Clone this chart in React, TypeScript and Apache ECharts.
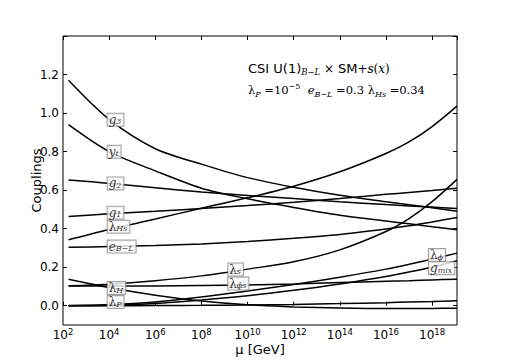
import React, { useEffect, useRef } from "react";
import * as echarts from "echarts";

// log10(mu / GeV) sample points
const logMu = [2.24, 4, 6, 8, 10, 12, 14, 16, 17, 18, 19.08];

const g3 = [1.17, 0.967, 0.815, 0.735, 0.665, 0.615, 0.573, 0.54, 0.524, 0.508, 0.49];
const yt = [0.94, 0.8, 0.7, 0.61, 0.555, 0.51, 0.47, 0.44, 0.425, 0.41, 0.394];
const g2 = [0.653, 0.635, 0.613, 0.59, 0.572, 0.556, 0.54, 0.525, 0.518, 0.512, 0.505];
const g1 = [0.463, 0.477, 0.49, 0.505, 0.52, 0.537, 0.557, 0.578, 0.588, 0.598, 0.61];
const lamHs = [0.342, 0.396, 0.45, 0.506, 0.56, 0.62, 0.695, 0.79, 0.85, 0.93, 1.036];
const eBL = [0.303, 0.307, 0.313, 0.321, 0.334, 0.35, 0.37, 0.398, 0.415, 0.435, 0.458];
const lamS = [0.104, 0.112, 0.13, 0.155, 0.19, 0.228, 0.29, 0.385, 0.452, 0.54, 0.656];
const lamPhiS = [0.102, 0.102, 0.103, 0.105, 0.108, 0.113, 0.12, 0.127, 0.13, 0.134, 0.138];
const lamPhi = [0.001, 0.006, 0.02, 0.045, 0.077, 0.11, 0.148, 0.19, 0.215, 0.242, 0.273];
const gMix = [0.0, 0.003, 0.012, 0.03, 0.052, 0.08, 0.113, 0.152, 0.175, 0.2, 0.233];
const lamH = [0.138, 0.095, 0.055, 0.025, 0.005, -0.006, -0.012, -0.015, -0.015, -0.014, -0.013];
const lamP = [0.0, 0.0, 0.001, 0.002, 0.004, 0.007, 0.011, 0.016, 0.019, 0.022, 0.026];

const curves = [g3, yt, g2, g1, lamHs, eBL, lamS, lamPhiS, lamPhi, gMix, lamH, lamP];

// curve labels (anchor in data coordinates)
const labelTexts = [
  "{i|g}{sub|3}",
  "{i|y}{sub|t}",
  "{i|g}{sub|2}",
  "{i|g}{sub|1}",
  "{n|λ}{sub|Hs}",
  "{i|e}{sub|B−L}",
  "{n|λ}{sub|H}",
  "{n|λ}{sub|P}",
  "{n|λ}{sub|s}",
  "{n|λ}{sub|ϕs}",
  "{n|λ}{sub|ϕ}",
  "{i|g}{sub|mix}",
];
const labelX = [4, 4, 4, 4, 4, 4, 4, 4, 9.23, 9.23, 17.93, 17.93];
const labelY = [0.965, 0.799, 0.635, 0.483, 0.41, 0.307, 0.092, 0.019, 0.188, 0.115, 0.263, 0.195];

const xTickExponents = [2, 4, 6, 8, 10, 12, 14, 16, 18];
const yTickLabels = ["0.0", "0.2", "0.4", "0.6", "0.8", "1.0", "1.2"];

const X_MIN = 2;
const X_MAX = 19.08;
const Y_MIN = -0.1;
const Y_MAX = 1.4;

export default function App() {
  const ref = useRef<HTMLDivElement>(null);
  useEffect(() => {
    document.body.style.margin = "0";
    if (!ref.current) return;
    const chart = echarts.init(ref.current, undefined, { renderer: "svg" });

    const H = 362;
    const left = 63, right = 50, top = 36, bottom = 37;
    const plotH = H - top - bottom;
    const zeroPx = top + plotH * (Y_MAX - 0) / (Y_MAX - Y_MIN);
    const bottom2 = H - zeroPx;

    const tickStyle = { show: true, inside: true, length: 4, lineStyle: { color: "#000", width: 1 } };
    const sans = "DejaVu Sans";
    const serif = "DejaVu Serif";

    const lineSeries = curves.map((c) => ({
      type: "line",
      xAxisIndex: 0,
      yAxisIndex: 0,
      data: logMu.map((x, i) => [x, c[i]]),
      showSymbol: false,
      smooth: 0.3,
      lineStyle: { color: "#000", width: 1.5 },
      z: 2,
      silent: true,
    }));

    const labelSeries = {
      type: "scatter",
      xAxisIndex: 0,
      yAxisIndex: 0,
      data: labelX.map((x, i) => [x, labelY[i]]),
      symbolSize: 1,
      itemStyle: { color: "rgba(0,0,0,0)" },
      z: 5,
      label: {
        show: true,
        position: "right",
        distance: -2,
        formatter: (p: any) => labelTexts[p.dataIndex],
        backgroundColor: "#fff",
        borderColor: "#888",
        borderWidth: 1,
        padding: [0, 2, 0, 1],
        rich: {
          i: { fontFamily: serif, fontStyle: "italic", fontSize: 12, color: "#000", lineHeight: 12 },
          n: { fontFamily: serif, fontSize: 12, color: "#000", lineHeight: 12 },
          sub: { fontFamily: serif, fontStyle: "italic", fontSize: 8, color: "#000", verticalAlign: "bottom", lineHeight: 8, padding: [4, 0, 0, 0] },
        },
      },
    };

    const option: any = {
      animation: false,
      backgroundColor: "#fff",
      grid: [
        { left, right, top, bottom, show: true, borderColor: "#000", borderWidth: 1, backgroundColor: "transparent", containLabel: false, outerBoundsMode: "none" },
        { left, right, top, bottom: bottom2, show: false, containLabel: false, outerBoundsMode: "none" },
      ],
      xAxis: [
        {
          gridIndex: 0,
          type: "value",
          min: X_MIN,
          max: X_MAX,
          interval: 2,
          position: "bottom",
          axisLine: { show: false },
          axisTick: tickStyle,
          splitLine: { show: false },
          axisLabel: {
            show: true,
            showMaxLabel: false,
            margin: 2,
            formatter: (v: number) => (xTickExponents.includes(Math.round(v)) && Math.abs(v - Math.round(v)) < 1e-6 ? `{b|10}{s|${Math.round(v)}}` : ""),
            rich: {
              b: { fontFamily: sans, fontSize: 12, color: "#000", lineHeight: 14, verticalAlign: "bottom" },
              s: { fontFamily: sans, fontSize: 8.5, color: "#000", lineHeight: 14, verticalAlign: "top", padding: [0, 0, 5, 0] },
            },
          },
          name: "μ [GeV]",
          nameLocation: "middle",
          nameGap: 18,
          nameMoveOverlap: false,
          nameTextStyle: { fontFamily: sans, fontSize: 13, color: "#000" },
        },
        {
          gridIndex: 0,
          type: "value",
          min: X_MIN,
          max: X_MAX,
          interval: 2,
          position: "top",
          axisLine: { show: false },
          axisTick: tickStyle,
          axisLabel: { show: false },
          splitLine: { show: false },
        },
        { gridIndex: 1, type: "value", min: X_MIN, max: X_MAX, show: false },
      ],
      yAxis: [
        {
          gridIndex: 0,
          type: "value",
          min: Y_MIN,
          max: Y_MAX,
          axisLine: { show: false },
          axisTick: { show: false },
          axisLabel: { show: false },
          splitLine: { show: false },
          name: "Couplings",
          nameLocation: "middle",
          nameGap: 20,
          nameMoveOverlap: false,
          nameTextStyle: { fontFamily: sans, fontSize: 13, color: "#000" },
        },
        {
          gridIndex: 1,
          type: "value",
          min: 0,
          max: Y_MAX,
          interval: 0.2,
          position: "left",
          axisLine: { show: false },
          axisTick: tickStyle,
          splitLine: { show: false },
          axisLabel: {
            show: true,
            margin: 4,
            fontFamily: sans,
            fontSize: 12,
            color: "#000",
            formatter: (v: number) => {
              const idx = Math.round(v / 0.2);
              return Math.abs(v - idx * 0.2) < 1e-6 && idx < yTickLabels.length ? yTickLabels[idx] : "";
            },
          },
        },
        {
          gridIndex: 1,
          type: "value",
          min: 0,
          max: Y_MAX,
          interval: 0.2,
          position: "right",
          axisLine: { show: false },
          axisTick: tickStyle,
          axisLabel: { show: false },
          splitLine: { show: false },
        },
      ],
      graphic: [
        {
          type: "text",
          left: 248,
          top: 62,
          style: {
            text: "{a|CSI U(1)}{sub|B−L}{m| × }{a|SM}{m|+}{it|s}{m|(}{it|x}{m|)}",
            rich: {
              a: { fontFamily: sans, fontSize: 13, fill: "#000", lineHeight: 16 },
              m: { fontFamily: serif, fontSize: 12, fill: "#000", lineHeight: 16 },
              it: { fontFamily: serif, fontStyle: "italic", fontSize: 12, fill: "#000", lineHeight: 16 },
              sub: { fontFamily: serif, fontStyle: "italic", fontSize: 8.5, fill: "#000", lineHeight: 10, verticalAlign: "bottom", padding: [5, 0, 0, 0] },
            },
          },
        },
        {
          type: "text",
          left: 248,
          top: 82,
          style: {
            text: "{l|λ}{sub|P}{m| =10}{sup|−5}{m|  }{it|e}{sub|B−L}{m| =0.3 }{l|λ}{sub|Hs}{m| =0.34}",
            rich: {
              l: { fontFamily: serif, fontSize: 11.5, fill: "#000", lineHeight: 16 },
              m: { fontFamily: serif, fontSize: 11.5, fill: "#000", lineHeight: 16 },
              it: { fontFamily: serif, fontStyle: "italic", fontSize: 11.5, fill: "#000", lineHeight: 16 },
              sub: { fontFamily: serif, fontStyle: "italic", fontSize: 8, fill: "#000", lineHeight: 10, verticalAlign: "bottom", padding: [5, 0, 0, 0] },
              sup: { fontFamily: serif, fontSize: 8, fill: "#000", lineHeight: 10, verticalAlign: "top", padding: [0, 0, 5, 0] },
            },
          },
        },
      ],
      series: [...lineSeries, labelSeries],
    };

    chart.setOption(option);
    return () => chart.dispose();
  }, []);

  return <div ref={ref} style={{ width: 507, height: 362 }} />;
}
